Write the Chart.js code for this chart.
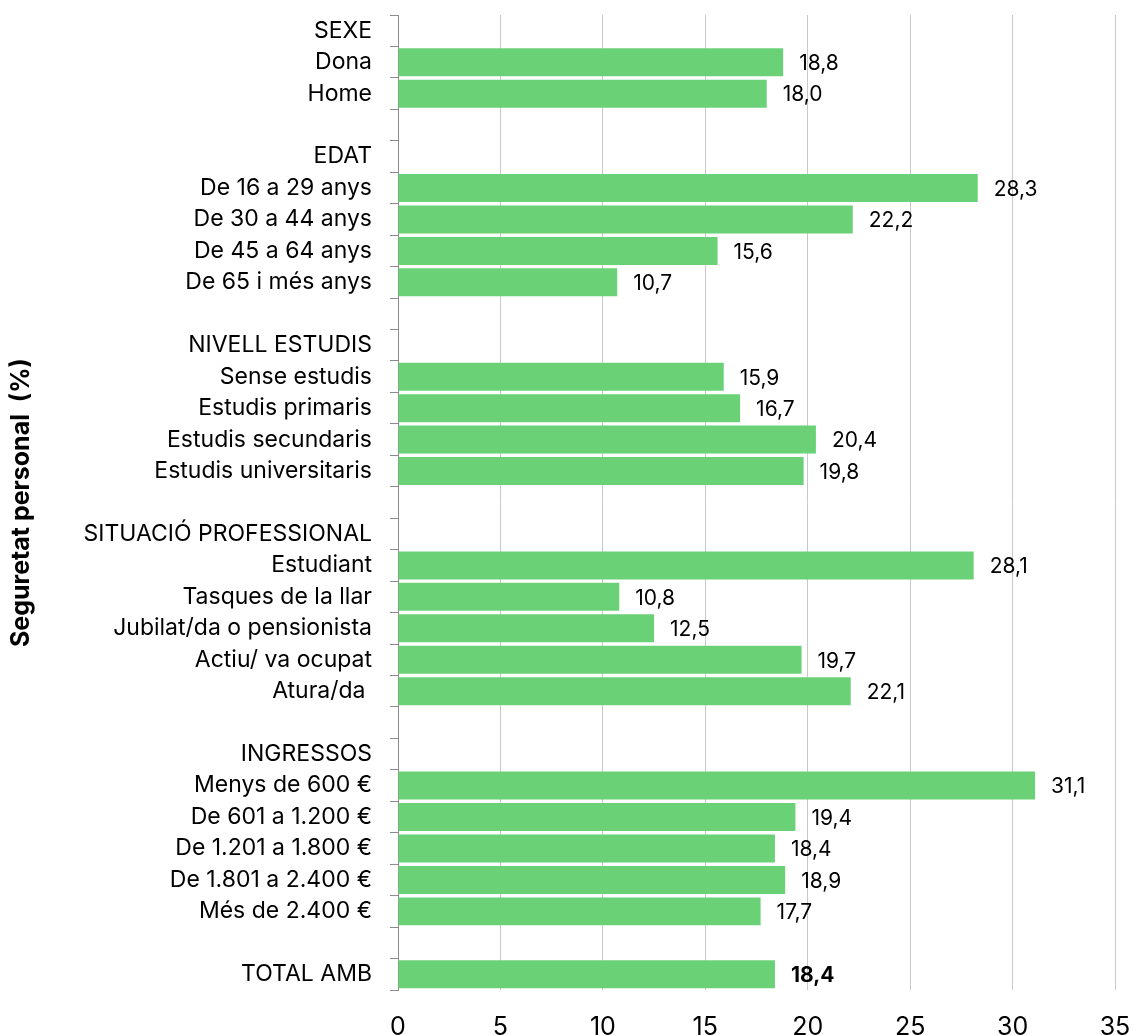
<!DOCTYPE html>
<html lang="ca">
<head>
<meta charset="UTF-8">
<title>Seguretat personal (%)</title>
<script src="https://cdn.jsdelivr.net/npm/chart.js@4.4.1/dist/chart.umd.min.js"></script>
<style>
  body { margin: 0; background: #fff; }
  .wrap { position: relative; width: 1134px; height: 1035px; }
</style>
</head>
<body>
<div class="wrap"><canvas id="chart"></canvas></div>
<script>
// categories (empty strings = blank separator rows)
const categories = [
  'SEXE', 'Dona', 'Home', '',
  'EDAT', 'De 16 a 29 anys', 'De 30 a 44 anys', 'De 45 a 64 anys', 'De 65 i més anys', '',
  'NIVELL ESTUDIS', 'Sense estudis', 'Estudis primaris', 'Estudis secundaris', 'Estudis universitaris', '',
  'SITUACIÓ PROFESSIONAL', 'Estudiant', 'Tasques de la llar', 'Jubilat/da o pensionista', 'Actiu/ va ocupat', 'Atura/da ', '',
  'INGRESSOS', 'Menys de 600 €', 'De 601 a 1.200 €', 'De 1.201 a 1.800 €', 'De 1.801 a 2.400 €', 'Més de 2.400 €', '',
  'TOTAL AMB'
];
// percentages (null = heading or blank row)
const values = [
  null, 18.8, 18.0, null,
  null, 28.3, 22.2, 15.6, 10.7, null,
  null, 15.9, 16.7, 20.4, 19.8, null,
  null, 28.1, 10.8, 12.5, 19.7, 22.1, null,
  null, 31.1, 19.4, 18.4, 18.9, 17.7, null,
  18.4
];
const xTicks = [0, 5, 10, 15, 20, 25, 30, 35];
const boldRow = 'TOTAL AMB';

const FONT = "Inter, 'Noto Sans', Arial, sans-serif";

// value labels to the right of each bar
const valueLabels = {
  id: 'valueLabels',
  afterDatasetsDraw(chart) {
    const ctx = chart.ctx;
    const meta = chart.getDatasetMeta(0);
    ctx.save();
    ctx.fillStyle = '#000';
    ctx.textAlign = 'left';
    ctx.textBaseline = 'middle';
    meta.data.forEach((bar, i) => {
      const v = values[i];
      if (v === null) return;
      const bold = categories[i] === boldRow;
      ctx.font = (bold ? 'bold ' : '') + '21px ' + FONT;
      ctx.fillText(v.toFixed(1).replace('.', ','), bar.x + 16, bar.y + 1.5);
    });
    ctx.restore();
  }
};

new Chart(document.getElementById('chart'), {
  type: 'bar',
  data: {
    labels: categories,
    datasets: [{
      data: values,
      backgroundColor: '#6bd177',
      borderWidth: 0,
      barPercentage: 0.89,
      categoryPercentage: 1.0
    }]
  },
  options: {
    indexAxis: 'y',
    responsive: true,
    maintainAspectRatio: false,
    animation: false,
    layout: { padding: { top: 15, right: 19, bottom: 0, left: 0 } },
    plugins: {
      legend: { display: false },
      tooltip: { enabled: false }
    },
    scales: {
      x: {
        min: 0,
        max: 35,
        afterBuildTicks(scale) {
          scale.ticks = xTicks.map(v => ({ value: v }));
        },
        afterFit(scale) {
          scale.height = 45;
          scale.paddingLeft = 0;
          scale.paddingRight = 0;
        },
        grid: { color: '#c8c8c8', lineWidth: 1, drawTicks: false },
        border: { display: false },
        ticks: {
          padding: 22,
          color: '#000',
          font: { family: FONT, size: 25 }
        }
      },
      y: {
        afterFit(scale) {
          scale.width = 398;
          scale.paddingTop = 0;
          scale.paddingBottom = 0;
        },
        grid: {
          offset: true,
          drawOnChartArea: false,
          drawTicks: true,
          tickLength: 8,
          color: '#8c8c8c'
        },
        border: { display: true, color: '#8c8c8c', width: 1 },
        ticks: {
          padding: 18,
          color: '#000',
          autoSkip: false,
          font: { family: FONT, size: 23 }
        },
        title: {
          display: true,
          text: 'Seguretat personal  (%)',
          color: '#000',
          padding: { top: 6, bottom: 0 },
          font: { family: FONT, size: 25, weight: 'bold' }
        }
      }
    }
  },
  plugins: [valueLabels]
});
</script>
</body>
</html>
